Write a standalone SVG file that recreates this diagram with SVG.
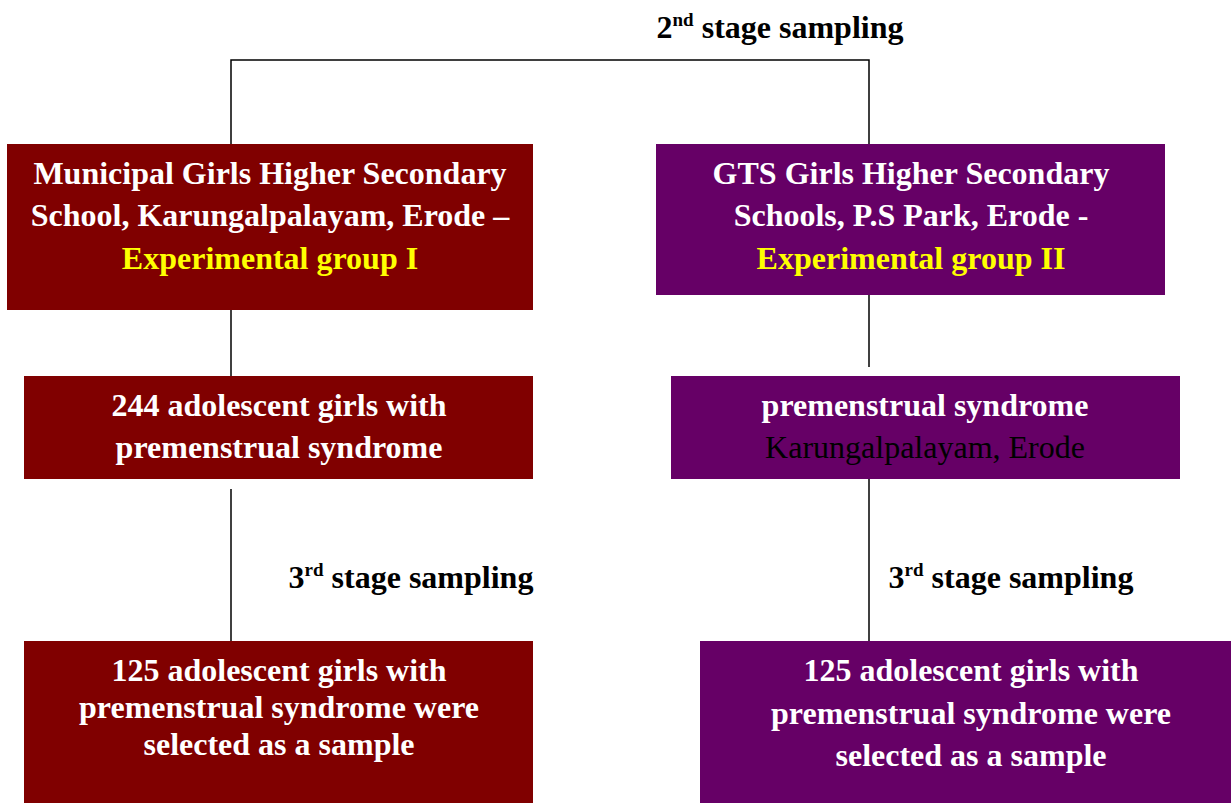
<svg xmlns="http://www.w3.org/2000/svg" width="1231" height="803" viewBox="0 0 1231 803">
<style>
.red{fill:#800000}
.pur{fill:#660066}
.t{font-family:"Liberation Serif","Times New Roman",serif;font-weight:bold;font-size:32px;fill:#fff;text-anchor:middle}
.y{fill:#ffff00}
.k{fill:#000}
.n{font-weight:normal}
.sup{font-size:19px}
.ln{stroke:#000;stroke-width:1.5;fill:none}
</style>
<rect width="1231" height="803" fill="#fff"/>
<g id="connectors">
<polyline class="ln" points="231,144 231,60 869,60 869,144"/>
<line class="ln" x1="231" y1="310" x2="231" y2="376"/>
<line class="ln" x1="869" y1="295" x2="869" y2="367"/>
<line class="ln" x1="231" y1="489" x2="231" y2="641"/>
<line class="ln" x1="869" y1="479" x2="869" y2="641"/>
</g>
<g id="label-2nd">
<text class="t k" x="780" y="38">2<tspan class="sup" dy="-12">nd</tspan><tspan dy="12"> stage sampling</tspan></text>
</g>
<g id="node-municipal">
<rect class="red" x="7" y="144" width="526" height="166"/>
<text class="t" x="270" y="184">Municipal Girls Higher Secondary</text>
<text class="t" x="270" y="226">School, Karungalpalayam, Erode –</text>
<text class="t y" x="270" y="269">Experimental group I</text>
</g>
<g id="node-gts">
<rect class="pur" x="656" y="144" width="509" height="151"/>
<text class="t" x="911" y="184">GTS Girls Higher Secondary</text>
<text class="t" x="911" y="226">Schools, P.S Park, Erode -</text>
<text class="t y" x="911" y="269">Experimental group II</text>
</g>
<g id="node-244">
<rect class="red" x="24" y="376" width="509" height="103"/>
<text class="t" x="279" y="416">244 adolescent girls with</text>
<text class="t" x="279" y="458">premenstrual syndrome</text>
</g>
<g id="node-pms">
<rect class="pur" x="671" y="376" width="509" height="103"/>
<text class="t" x="925" y="416">premenstrual syndrome</text>
<text class="t k n" x="925" y="458">Karungalpalayam, Erode</text>
</g>
<g id="label-3rd-left">
<text class="t k" x="411" y="588">3<tspan class="sup" dy="-12">rd</tspan><tspan dy="12"> stage sampling</tspan></text>
</g>
<g id="label-3rd-right">
<text class="t k" x="1011" y="588">3<tspan class="sup" dy="-12">rd</tspan><tspan dy="12"> stage sampling</tspan></text>
</g>
<g id="node-125-left">
<rect class="red" x="24" y="641" width="509" height="162"/>
<text class="t" x="279" y="681">125 adolescent girls with</text>
<text class="t" x="279" y="718">premenstrual syndrome were</text>
<text class="t" x="279" y="755">selected as a sample</text>
</g>
<g id="node-125-right">
<rect class="pur" x="700" y="641" width="531" height="162"/>
<text class="t" x="971" y="681">125 adolescent girls with</text>
<text class="t" x="971" y="724">premenstrual syndrome were</text>
<text class="t" x="971" y="766">selected as a sample</text>
</g>
</svg>
